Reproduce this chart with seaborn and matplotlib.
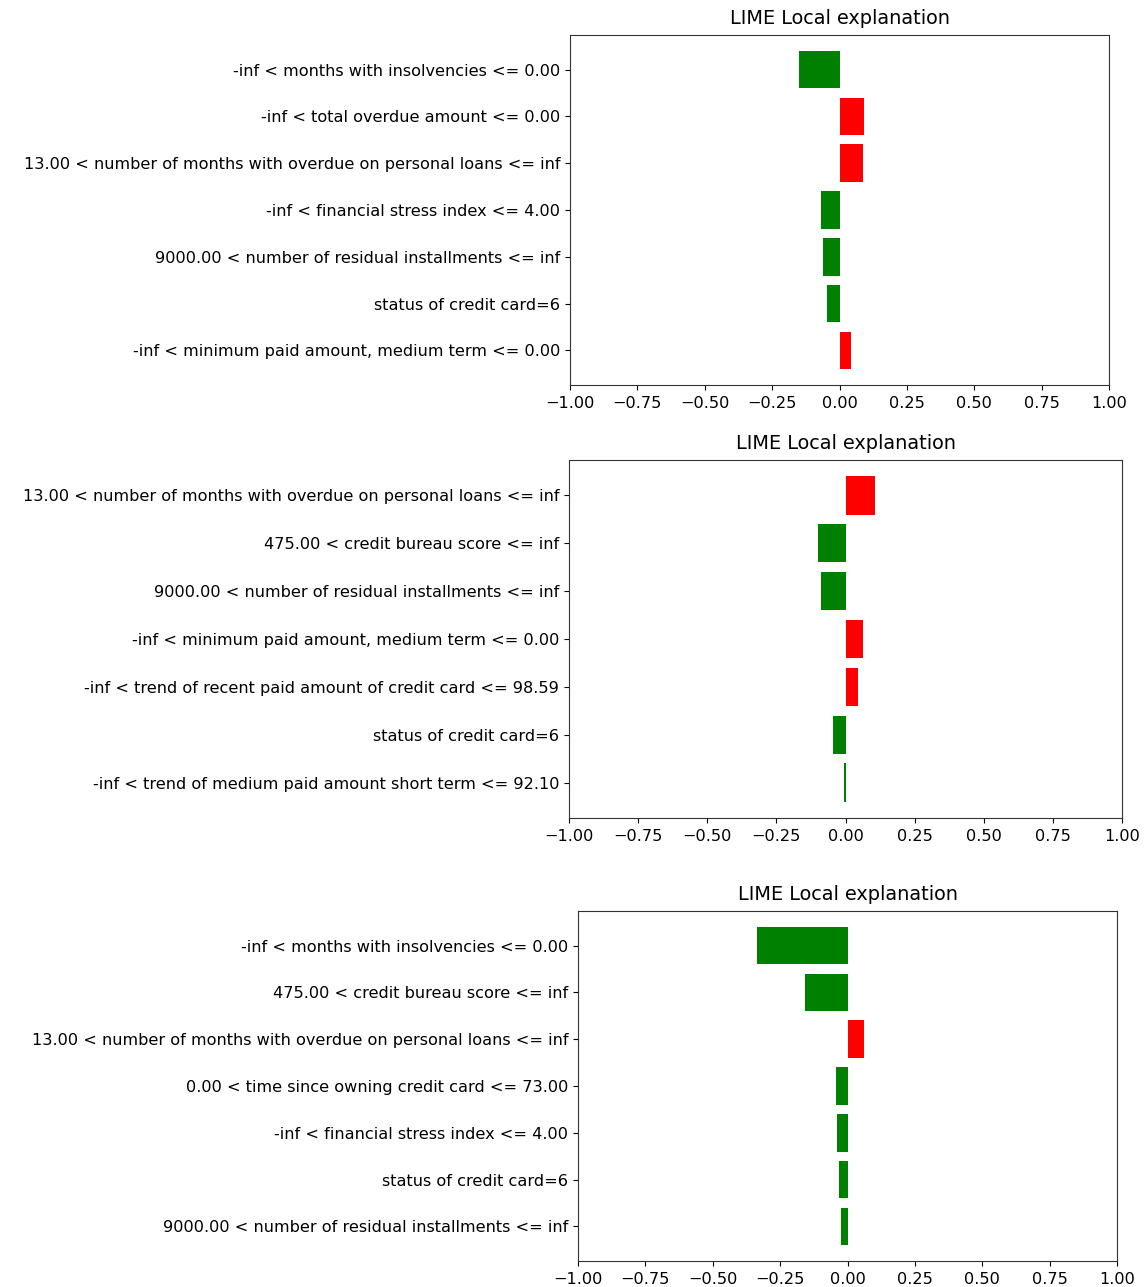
import matplotlib
matplotlib.use('Agg')
import matplotlib.pyplot as plt
import seaborn as sns
sns.set_style('ticks')
plt.rcParams['font.family'] = ['DejaVu Sans']
plt.rcParams['text.color'] = 'black'
plt.rcParams['xtick.color'] = 'black'
plt.rcParams['ytick.color'] = 'black'
plt.rcParams['axes.edgecolor'] = '#333333'

# panel 1
labels_1 = [
    '-inf < months with insolvencies <= 0.00',
    '-inf < total overdue amount <= 0.00',
    '13.00 < number of months with overdue on personal loans <= inf',
    '-inf < financial stress index <= 4.00',
    '9000.00 < number of residual installments <= inf',
    'status of credit card=6',
    '-inf < minimum paid amount, medium term <= 0.00',
]
weights_1 = [-0.152, 0.090, 0.088, -0.068, -0.060, -0.045, 0.044]

# panel 2
labels_2 = [
    '13.00 < number of months with overdue on personal loans <= inf',
    '475.00 < credit bureau score <= inf',
    '9000.00 < number of residual installments <= inf',
    '-inf < minimum paid amount, medium term <= 0.00',
    '-inf < trend of recent paid amount of credit card <= 98.59',
    'status of credit card=6',
    '-inf < trend of medium paid amount short term <= 92.10',
]
weights_2 = [0.105, -0.098, -0.090, 0.063, 0.047, -0.045, -0.004]

# panel 3
labels_3 = [
    '-inf < months with insolvencies <= 0.00',
    '475.00 < credit bureau score <= inf',
    '13.00 < number of months with overdue on personal loans <= inf',
    '0.00 < time since owning credit card <= 73.00',
    '-inf < financial stress index <= 4.00',
    'status of credit card=6',
    '9000.00 < number of residual installments <= inf',
]
weights_3 = [-0.336, -0.157, 0.060, -0.041, -0.038, -0.033, -0.024]

panels = [(labels_1, weights_1), (labels_2, weights_2), (labels_3, weights_3)]

W, H = 1147, 1287
# left, top, right, bottom in pixels
boxes = [(570, 35, 1109, 385), (569, 460, 1122, 818), (578, 911, 1117, 1261)]

fig = plt.figure(figsize=(W / 100, H / 100), dpi=100)

for (labels, weights), (l, t, r, b) in zip(panels, boxes):
    ax = fig.add_axes([l / W, (H - b) / H, (r - l) / W, (b - t) / H])
    sign = ['neg' if w < 0 else 'pos' for w in weights]
    sns.barplot(x=weights, y=labels, hue=sign, orient='h',
                palette={'neg': 'green', 'pos': 'red'}, dodge=False,
                legend=False, width=0.8, linewidth=0, saturation=1, ax=ax)
    n = len(labels)
    ax.set_ylim(n - 1 + 0.74, -0.74)
    ax.set_xlim(-1, 1)
    ax.set_xticks([-1, -0.75, -0.5, -0.25, 0, 0.25, 0.5, 0.75, 1])
    ax.set_xticklabels(['\u22121.00', '\u22120.75', '\u22120.50', '\u22120.25',
                        '0.00', '0.25', '0.50', '0.75', '1.00'])
    ax.tick_params(labelsize=11.6)
    ax.tick_params(axis='x', pad=4.5)
    ax.set_xlabel('')
    ax.set_ylabel('')
    ax.set_title('LIME Local explanation', fontsize=13.9, pad=8)

fig.savefig('out.png', dpi=100)
plt.close(fig)
